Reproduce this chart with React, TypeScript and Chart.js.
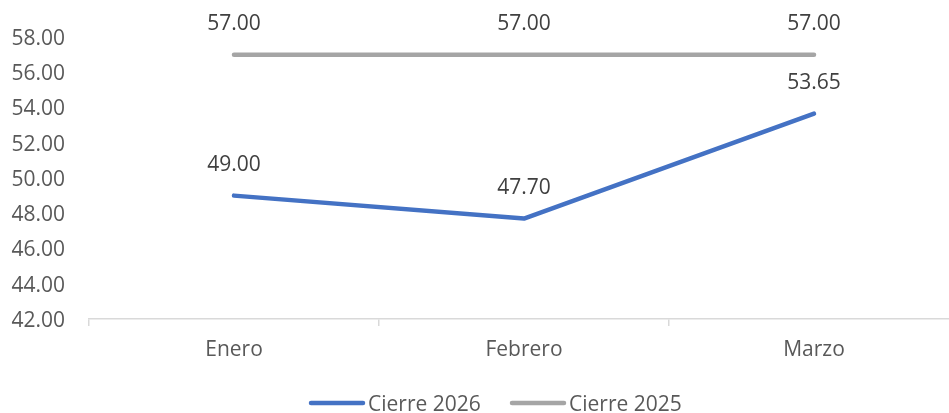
import React, { useEffect, useRef } from "react";
import { Chart, registerables } from "chart.js";

Chart.register(...registerables);

const categories = ["Enero", "Febrero", "Marzo"];
const cierre2026 = [49.0, 47.7, 53.65];
const cierre2025 = [57.0, 57.0, 57.0];
const seriesNames = ["Cierre 2026", "Cierre 2025"];
const yMin = 42;
const yMax = 58;
const yStep = 2;

const FONT = "'Open Sans', sans-serif";
const BLUE = "#4472C4";
const GREY = "#A5A5A5";
const TEXT = "#595959";

const labelsPlugin = {
  id: "valueLabels",
  afterDatasetsDraw(chart: any) {
    const ctx = chart.ctx;
    ctx.save();
    ctx.font = `21px ${FONT}`;
    ctx.fillStyle = "#404040";
    ctx.textAlign = "center";
    ctx.textBaseline = "middle";
    chart.data.datasets.forEach((ds: any, i: number) => {
      const meta = chart.getDatasetMeta(i);
      meta.data.forEach((pt: any, j: number) => {
        ctx.fillText(Number(ds.data[j]).toFixed(2), pt.x, pt.y - 30.5);
      });
    });
    ctx.restore();
  },
};

const legendPlugin = {
  id: "customLegend",
  afterDraw(chart: any) {
    const ctx = chart.ctx;
    ctx.save();
    ctx.font = `21px ${FONT}`;
    ctx.textBaseline = "middle";
    ctx.textAlign = "left";
    const starts = [309, 510];
    const y = 403;
    chart.data.datasets.forEach((ds: any, i: number) => {
      const x = starts[i];
      ctx.strokeStyle = ds.borderColor;
      ctx.lineWidth = ds.borderWidth;
      ctx.lineCap = "round";
      ctx.beginPath();
      ctx.moveTo(x + 2, y);
      ctx.lineTo(x + 54, y);
      ctx.stroke();
      ctx.fillStyle = TEXT;
      ctx.fillText(ds.label, x + 59, y + 2);
    });
    ctx.restore();
  },
};

export default function App() {
  const ref = useRef<HTMLCanvasElement>(null);
  useEffect(() => {
    if (!ref.current) return;
    const chart = new Chart(ref.current, {
      type: "line",
      data: {
        labels: categories,
        datasets: [
          {
            label: seriesNames[0],
            data: cierre2026,
            borderColor: BLUE,
            backgroundColor: BLUE,
            borderWidth: 4.5,
            pointRadius: 0,
            borderCapStyle: "round",
            borderJoinStyle: "round",
            tension: 0,
          },
          {
            label: seriesNames[1],
            data: cierre2025,
            borderColor: GREY,
            backgroundColor: GREY,
            borderWidth: 4.5,
            pointRadius: 0,
            borderCapStyle: "round",
            borderJoinStyle: "round",
            tension: 0,
          },
        ],
      },
      options: {
        responsive: false,
        animation: false,
        layout: { padding: { top: 37, left: 0, right: 1, bottom: 0 } },
        plugins: {
          legend: { display: false },
          tooltip: { enabled: false },
        },
        scales: {
          x: {
            offset: true,
            grid: {
              offset: true,
              drawOnChartArea: false,
              drawTicks: true,
              tickLength: 7,
              color: "#D9D9D9",
              lineWidth: 1.5,
            },
            border: { display: true, color: "#D9D9D9", width: 1.5 },
            ticks: {
              color: TEXT,
              font: { family: FONT, size: 21 },
              padding: 11,
            },
            afterFit(scale: any) {
              scale.height = 94;
            },
          },
          y: {
            min: yMin,
            max: yMax,
            grid: { display: false, drawTicks: false },
            border: { display: false },
            ticks: {
              stepSize: yStep,
              color: TEXT,
              font: { family: FONT, size: 21 },
              padding: 24,
              labelOffset: 2,
              callback: (v: any) => Number(v).toFixed(2),
            },
            afterFit(scale: any) {
              scale.width = 89;
            },
          },
        },
      },
      plugins: [labelsPlugin, legendPlugin],
    } as any);
    return () => chart.destroy();
  }, []);
  return (
    <div
      style={{
        position: "fixed",
        left: 0,
        top: 0,
        width: 949,
        height: 413,
        overflow: "hidden",
        background: "#fff",
      }}
    >
      <canvas ref={ref} width={960} height={413} style={{ display: "block" }} />
    </div>
  );
}
